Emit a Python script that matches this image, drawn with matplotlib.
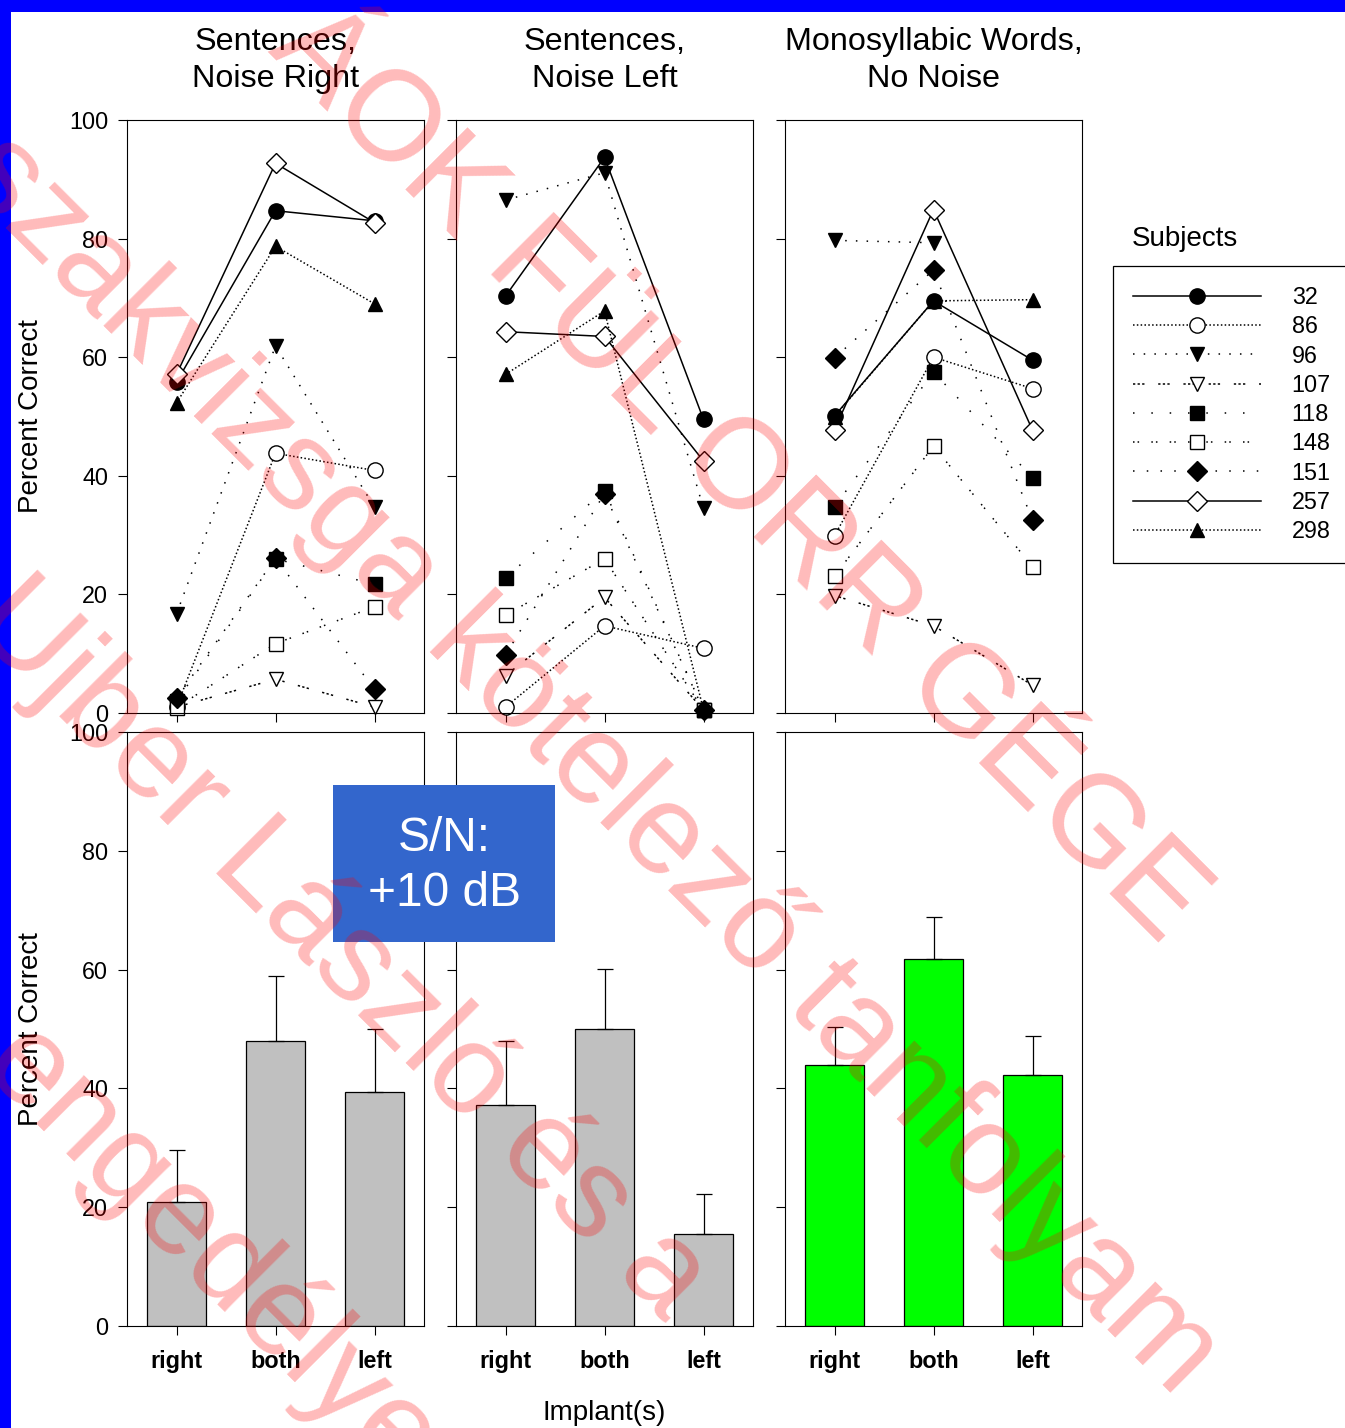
import numpy as np
import matplotlib

matplotlib.use("Agg")
import matplotlib.pyplot as plt
from matplotlib.lines import Line2D
from matplotlib.patches import Rectangle

plt.rcParams["font.family"] = ["Liberation Sans", "DejaVu Sans"]

# ---- data -------------------------------------------------------------
categories = ["right", "both", "left"]
panel_titles = ["Sentences,\nNoise Right", "Sentences,\nNoise Left", "Monosyllabic Words,\nNo Noise"]
subjects = ["32", "86", "96", "107", "118", "148", "151", "257", "298"]

# per-subject scores (right, both, left) for each test condition
noise_right = {
    "32": [55.8, 84.7, 83.0],
    "86": [1.0, 43.8, 40.9],
    "96": [16.7, 61.9, 34.7],
    "107": [1.0, 5.7, 1.0],
    "118": [2.0, 26.0, 21.7],
    "148": [0.9, 11.7, 17.9],
    "151": [2.5, 26.1, 4.0],
    "257": [57.1, 92.7, 82.7],
    "298": [52.3, 78.7, 69.0],
}
noise_left = {
    "32": [70.3, 93.7, 49.5],
    "86": [1.0, 14.7, 10.9],
    "96": [86.5, 91.1, 34.5],
    "107": [6.3, 19.5, 0.5],
    "118": [22.8, 37.5, 0.5],
    "148": [16.5, 26.0, 0.5],
    "151": [9.8, 37.0, 0.5],
    "257": [64.3, 63.5, 42.5],
    "298": [57.1, 67.8, 0.5],
}
mono_words = {
    "32": [50.1, 69.5, 59.5],
    "86": [29.9, 60.0, 54.7],
    "96": [79.7, 79.3, np.nan],
    "107": [19.8, 14.7, 4.7],
    "118": [34.8, 57.5, 39.7],
    "148": [23.1, 45.0, 24.7],
    "151": [59.9, 74.7, 32.5],
    "257": [47.8, 84.9, 47.7],
    "298": [50.0, 69.5, 69.7],
}

# group means and error (upper bar only)
mean_noise_right = [20.9, 47.9, 39.4]
err_noise_right = [8.7, 11.0, 10.6]
mean_noise_left = [37.2, 50.0, 15.5]
err_noise_left = [10.7, 10.1, 6.8]
mean_mono = [43.9, 61.8, 42.3]
err_mono = [6.4, 7.1, 6.5]

watermark_lines = ["ÁOK FÜL ORR GÉGE", "szakvizsga kötelező tanfolyam", "Ujber László és a", "engedélye"]

# ---- styles -----------------------------------------------------------
styles = {
    "32": dict(marker="o", mfc="k", ls="-", ms=11),
    "86": dict(marker="o", mfc="w", ls=(0, (1, 1.5)), ms=11),
    "96": dict(marker="v", mfc="k", ls=(0, (1, 6)), ms=10.5),
    "107": dict(marker="v", mfc="w", ls=(0, (1.5, 1.5, 1.5, 1.5, 1.5, 9)), ms=10.5),
    "118": dict(marker="s", mfc="k", ls=(0, (1, 11)), ms=9.5),
    "148": dict(marker="s", mfc="w", ls=(0, (1, 2, 1, 8)), ms=9.5),
    "151": dict(marker="D", mfc="k", ls=(0, (1, 8)), ms=10),
    "257": dict(marker="D", mfc="w", ls="-", ms=10),
    "298": dict(marker="^", mfc="k", ls=(0, (1, 1.5)), ms=10.5),
}

W, H = 1345, 1428
fig = plt.figure(figsize=(W / 100, H / 100), dpi=100)


def rect(x0, y0, x1, y1):
    return [x0 / W, 1 - y1 / H, (x1 - x0) / W, (y1 - y0) / H]


cols = [(127, 424), (456, 753), (785, 1082)]
rows = [(120, 713), (732, 1326)]
x = np.arange(len(categories))

line_data = [noise_right, noise_left, mono_words]
bar_means = [mean_noise_right, mean_noise_left, mean_mono]
bar_errs = [err_noise_right, err_noise_left, err_mono]
bar_colors = ["#c0c0c0", "#c0c0c0", "#00ff00"]


def style_axes(ax, first_col, bottom_row):
    ax.set_xlim(-0.5, 2.5)
    ax.set_ylim(0, 100)
    ax.set_xticks(x)
    ax.set_yticks(range(0, 101, 20))
    ax.tick_params(direction="out", length=6.5, width=0.8, labelsize=16.8, pad=7)
    ax.tick_params(axis="x", pad=11)
    for s in ax.spines.values():
        s.set_linewidth(0.8)
    if bottom_row:
        ax.set_xticklabels(categories, fontweight="bold")
    else:
        ax.set_xticklabels([])
    if not first_col:
        ax.set_yticklabels([])
    else:
        ax.set_ylabel("Percent Correct", fontsize=20)
        ax.yaxis.set_label_coords(-0.28, 0.5)


top_axes = []
for i, (x0, x1) in enumerate(cols):
    ax = fig.add_axes(rect(x0, rows[0][0], x1, rows[0][1]))
    for sub in subjects:
        st = styles[sub]
        ax.plot(x, line_data[i][sub], color="k", lw=1.1, ls=st["ls"], marker=st["marker"],
                mfc=st["mfc"], mec="k", mew=1.0, ms=st["ms"], clip_on=False)
    style_axes(ax, i == 0, False)
    ax.set_title(panel_titles[i], fontsize=23.3, pad=24, linespacing=1.29)
    top_axes.append(ax)

    axb = fig.add_axes(rect(x0, rows[1][0], x1, rows[1][1]))
    axb.bar(x, bar_means[i], width=0.6, color=bar_colors[i], edgecolor="k", linewidth=0.9,
            yerr=[np.zeros(3), bar_errs[i]], capsize=6, error_kw=dict(elinewidth=0.9, capthick=0.9))
    style_axes(axb, i == 0, True)
    if i == 1:
        axb.set_xlabel("Implant(s)", fontsize=20, labelpad=19)

# legend
handles = [Line2D([], [], color="k", lw=1.1, ls=styles[s]["ls"], marker=styles[s]["marker"],
                  mfc=styles[s]["mfc"], mec="k", ms=styles[s]["ms"]) for s in subjects]
leg = top_axes[2].legend(handles, subjects, loc="upper left", bbox_to_anchor=(1113 / W, 1 - 266 / H),
                         bbox_transform=fig.transFigure, borderaxespad=0, borderpad=0.86,
                         handlelength=5.5, handletextpad=1.3, labelspacing=0.268, numpoints=1,
                         fontsize=16.8, fancybox=False, edgecolor="k", framealpha=1)
leg.get_frame().set_linewidth(0.9)
fig.text(1132 / W, 1 - 239 / H, "Subjects", fontsize=20, ha="left", va="center")

# S/N box
fig.patches.append(Rectangle((333 / W, 1 - 942 / H), (555 - 333) / W, (942 - 785) / H,
                             transform=fig.transFigure, facecolor="#3366cc", edgecolor="none"))
fig.text(444 / W, 1 - 866 / H, "S/N:\n+10 dB", fontsize=34.5, color="white", ha="center",
         va="center", multialignment="center", linespacing=1.31)

# blue frame
fig.patches.append(Rectangle((0, 1 - 12 / H), 1, 12 / H, transform=fig.transFigure,
                             facecolor="#0000ff", edgecolor="none"))
fig.patches.append(Rectangle((0, 0), 11 / W, 1, transform=fig.transFigure,
                             facecolor="#0000ff", edgecolor="none"))

# watermark
wm_pos = [(737, 475), (590, 765), (340, 950), (210, 1255)]
for txt, (px, py) in zip(watermark_lines, wm_pos):
    fig.text(px / W, 1 - py / H, txt, fontsize=92, color="red", alpha=0.27, rotation=-45,
             ha="center", va="center", rotation_mode="anchor", zorder=10)

fig.savefig("out.png", dpi=100)
